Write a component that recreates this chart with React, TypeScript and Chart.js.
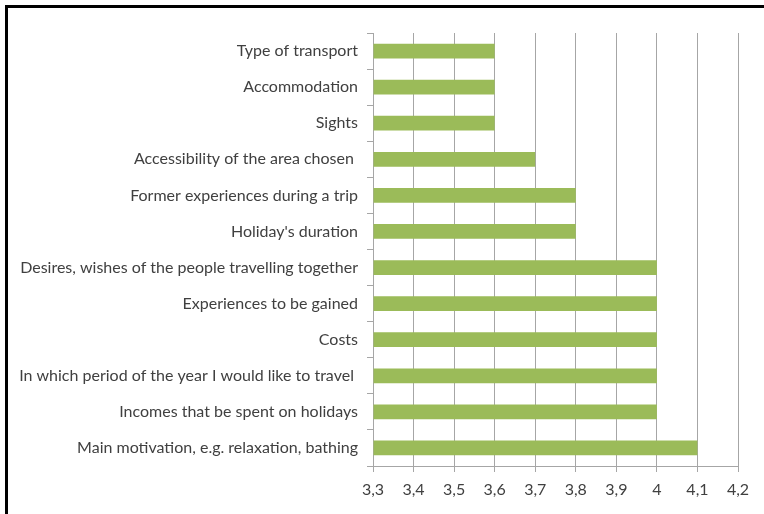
import React, { useEffect, useRef } from "react";
import { Chart, registerables } from "chart.js";

Chart.register(...registerables);

const categories = [
  "Type of transport",
  "Accommodation",
  "Sights",
  "Accessibility of the area chosen ",
  "Former experiences during a trip",
  "Holiday's duration",
  "Desires, wishes of the people travelling together",
  "Experiences to be gained",
  "Costs",
  "In which period of the year I would like to travel ",
  "Incomes that be spent on holidays",
  "Main motivation, e.g. relaxation, bathing",
];

const values = [3.6, 3.6, 3.6, 3.7, 3.8, 3.8, 4.0, 4.0, 4.0, 4.0, 4.0, 4.1];

const xTicks = [3.3, 3.4, 3.5, 3.6, 3.7, 3.8, 3.9, 4.0, 4.1, 4.2];

export default function App() {
  const ref = useRef<HTMLCanvasElement>(null);

  useEffect(() => {
    if (!ref.current) return;
    const font = { family: "Lato", size: 16 };
    const chart = new Chart(ref.current, {
      type: "bar",
      data: {
        labels: categories,
        datasets: [
          {
            data: values,
            backgroundColor: "#9BBB59",
            borderWidth: 0,
            categoryPercentage: 1,
            barPercentage: 0.41,
            base: 3.3,
          } as any,
        ],
      },
      options: {
        indexAxis: "y",
        animation: false,
        responsive: false,
        maintainAspectRatio: false,
        layout: { padding: { left: 0, top: 33, right: 26, bottom: 0 } },
        plugins: {
          legend: { display: false },
          tooltip: { enabled: false },
        },
        scales: {
          x: {
            type: "linear",
            min: 3.3,
            max: 4.2,
            afterBuildTicks: (scale: any) => {
              scale.ticks = xTicks.map((v) => ({ value: v }));
            },
            afterFit: (scale: any) => {
              scale.height = 48;
            },
            grid: {
              color: "#A6A6A6",
              lineWidth: 1,
              tickLength: 6,
              drawTicks: true,
            },
            border: { color: "#A6A6A6", width: 1 },
            ticks: {
              font,
              color: "#404040",
              padding: 8,
              maxRotation: 0,
              autoSkip: false,
              callback: (v: any) =>
                String(Math.round(Number(v) * 10) / 10).replace(".", ","),
            },
          },
          y: {
            type: "category",
            afterFit: (scale: any) => {
              scale.width = 373;
            },
            grid: {
              offset: true,
              drawOnChartArea: false,
              drawTicks: true,
              tickLength: 6,
              color: "#A6A6A6",
            },
            border: { color: "#A6A6A6", width: 1 },
            ticks: {
              font,
              color: "#404040",
              padding: 9,
              autoSkip: false,
            },
          },
        },
      },
    });
    return () => chart.destroy();
  }, []);

  return (
    <div
      style={{
        position: "fixed",
        left: 0,
        top: 0,
        width: 764,
        height: 514,
        background: "#fff",
        overflow: "hidden",
      }}
    >
      <canvas
        ref={ref}
        width={764}
        height={514}
        style={{ position: "absolute", left: 0, top: 0, width: 764, height: 514 }}
      />
      <div
        style={{
          position: "absolute",
          left: 5,
          top: 5,
          right: -10,
          bottom: -10,
          borderLeft: "3px solid #000",
          borderTop: "3px solid #000",
          pointerEvents: "none",
        }}
      />
    </div>
  );
}
